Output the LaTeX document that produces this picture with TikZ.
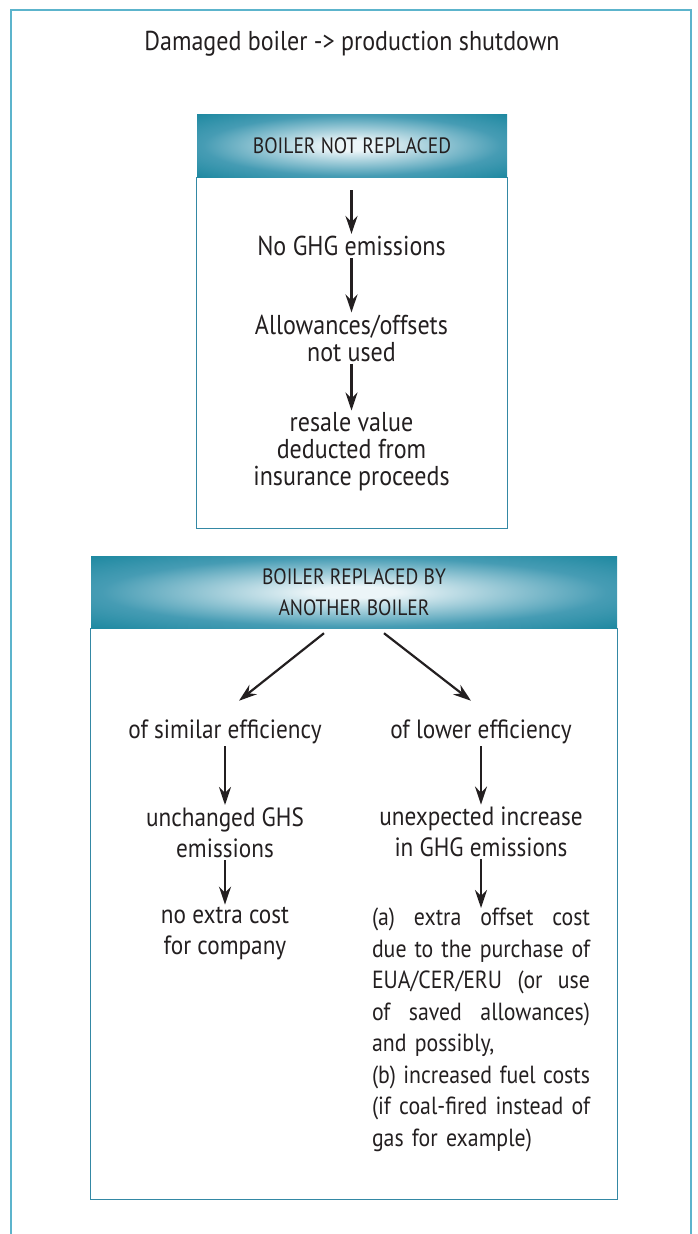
\documentclass[tikz,border=0pt]{standalone}
\usepackage{fontspec}
\setmainfont{PT Sans}[FakeStretch=0.88]
\usetikzlibrary{arrows.meta,positioning}
\definecolor{framecol}{RGB}{92,180,204}
\definecolor{boxcol}{RGB}{52,136,164}
\definecolor{hdouter}{RGB}{0,122,146}
\definecolor{hdmid}{RGB}{70,156,180}
\definecolor{hdinner}{RGB}{236,245,248}
\definecolor{inkcol}{RGB}{35,31,32}
\pgfdeclareradialshading{headshade}{\pgfpoint{0bp}{0bp}}{color(0bp)=(hdinner); color(4bp)=(hdinner); color(24bp)=(hdmid); color(44bp)=(hdouter); color(50bp)=(hdouter)}
\newcommand{\fullline}[1]{\makebox[218pt][s]{\spaceskip=0pt\xspaceskip=0pt #1}}
\begin{document}
\begin{tikzpicture}[x=1pt, y=-1pt,
    header/.style = {shading=headshade, inner sep=0pt, align=center, text=inkcol, font=\fontsize{22.2}{31}\selectfont},
    txt/.style = {align=center, inner sep=2pt, text=inkcol, font=\fontsize{27.3}{27}\selectfont},
    txtwide/.style = {txt, font=\fontsize{26.4}{31.5}\selectfont},
    arr/.style = {-{Stealth[length=18pt, width=12pt, inset=6pt]}, line width=2.2pt, draw=inkcol},
    boxline/.style = {draw=boxcol, line width=1pt}]
    \useasboundingbox (0,0) rectangle (697,1234);
    % outer frame, open at the bottom
    \draw[framecol, line width=1.2pt] (11,1234) |- (691,10) -- (691,1234);
    \node[text=inkcol, font=\fontsize{27.3}{28}\selectfont] (title) at (352,44) {Damaged boiler -> production shutdown};

    % boiler not replaced
    \node[header, minimum width=310, minimum height=63] (notrep) at (352,145.5) {BOILER NOT REPLACED};
    \draw[boxline] (notrep.south west) -- ++(0,351) -| (notrep.south east);
    \node[txt] (noghg) at (351.5,246) {No GHG emissions};
    \node[txt] (unused) at (351.5,338) {Allowances/offsets\\not used};
    \node[txt] (resale) at (351.5,452) {resale value\\deducted from\\insurance proceeds};
    \draw[arr, shorten <=13pt] (notrep.south -| noghg) -- (noghg);
    \draw[arr] (noghg) -- (unused);
    \draw[arr] (unused) -- (resale);

    % boiler replaced
    \node[header, minimum width=526, minimum height=72] (replaced) at (354,592) {BOILER REPLACED BY\\ANOTHER BOILER};
    \draw[boxline] (replaced.south west) -- ++(0,571) -| (replaced.south east);
    \node[txtwide] (similar) at (225,732) {of similar efficiency};
    \node[txtwide] (lower) at (481,732) {of lower efficiency};
    \node[txtwide] (unchanged) at (225,832.5) {unchanged GHS\\emissions};
    \node[txtwide] (nocost) at (225,933.5) {no extra cost\\for company};
    \node[txtwide] (increase) at (481,832) {unexpected increase\\in GHG emissions};
    \node[txtwide, font=\fontsize{24.8}{31.5}\selectfont, text width=218, align=left, inner sep=0pt] (extracost) at (481,1030) {\fullline{(a) extra offset cost}\\
        \fullline{due to the purchase of}\\
        \fullline{EUA/CER/ERU (or use}\\
        \fullline{of saved allowances)}\\
        and possibly,\\
        \fullline{(b) increased fuel costs}\\
        \fullline{(if coal-fired instead of}\\
        gas for example)};
    \draw[arr] ([xshift=-30pt, yshift=-5pt]replaced.south) -- ([xshift=14pt, yshift=17pt]similar.north);
    \draw[arr] ([xshift=30pt, yshift=-5pt]replaced.south) -- ([xshift=-10pt, yshift=17pt]lower.north);
    \draw[arr] (similar) -- (unchanged);
    \draw[arr] (unchanged) -- (nocost);
    \draw[arr] (lower) -- (increase);
    \draw[arr] (increase) -- (extracost);
\end{tikzpicture}
\end{document}
